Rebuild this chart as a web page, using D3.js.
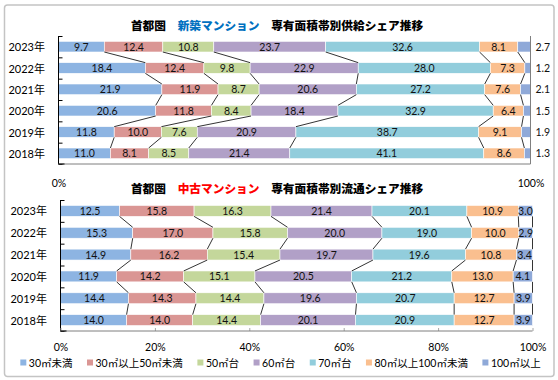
<!DOCTYPE html>
<html><head><meta charset="utf-8">
<script src="https://cdn.jsdelivr.net/npm/d3@7"></script>
<style>
html,body{margin:0;padding:0;background:#fff;}
svg{display:block;}
text{font-family:"Lato","Noto Sans CJK JP",sans-serif;}
</style></head>
<body>
<svg id="chart" width="558" height="380"></svg>
<script>
const years = ["2023年","2022年","2021年","2020年","2019年","2018年"];
const seriesNames = ["30㎡未満","30㎡以上50㎡未満","50㎡台","60㎡台","70㎡台","80㎡以上100㎡未満","100㎡以上"];
const seriesColors = ["#8DB4E2","#DA9694","#C4D79B","#B1A0C7","#92CDDC","#FABF8F","#8FA9D8"];
// 新築マンション (rows = years, cols = series)
const newValues = [
  [9.7,12.4,10.8,23.7,32.6,8.1,2.7],
  [18.4,12.4,9.8,22.9,28.0,7.3,1.2],
  [21.9,11.9,8.7,20.6,27.2,7.6,2.1],
  [20.6,11.8,8.4,18.4,32.9,6.4,1.5],
  [11.8,10.0,7.6,20.9,38.7,9.1,1.9],
  [11.0,8.1,8.5,21.4,41.1,8.6,1.3]
];
// 中古マンション
const usedValues = [
  [12.5,15.8,16.3,21.4,20.1,10.9,3.0],
  [15.3,17.0,15.8,20.0,19.0,10.0,2.9],
  [14.9,16.2,15.4,19.7,19.6,10.8,3.4],
  [11.9,14.2,15.1,20.5,21.2,13.0,4.1],
  [14.4,14.3,14.4,19.6,20.7,12.7,3.9],
  [14.0,14.0,14.4,20.1,20.9,12.7,3.9]
];
const topTicks = [0,100];
const bottomTicks = [0,20,40,60,80,100];

const svg = d3.select("#chart");
svg.append("rect").attr("x",4.5).attr("y",5).attr("width",549.5).attr("height",371.5)
  .attr("rx",3).attr("fill","#fff").attr("stroke","#c4c4c4").attr("stroke-width",1.5);

function drawTitle(y, parts){
  const t = svg.append("text").attr("x",277).attr("y",y).attr("text-anchor","middle")
    .attr("font-family","'Noto Sans CJK JP',sans-serif").attr("font-weight",900).attr("font-size","11.7px");
  parts.forEach(p=>t.append("tspan").attr("fill",p[1]).text(p[0]));
}
drawTitle(30,[["首都圏　","#000"],["新築マンション","#0070C0"],["　専有面積帯別供給シェア推移","#000"]]);
drawTitle(193,[["首都圏　","#000"],["中古マンション","#FF0000"],["　専有面積帯別流通シェア推移","#000"]]);

function drawChart(cfg){
  const {values, x0, x1, y0, y1, ticks, outsideLast, tickIn, rightBorder, labelRight} = cfg;
  const x = d3.scaleLinear().domain([0,100]).range([x0,x1]);
  const y = d3.scaleBand().domain(years).range([y0,y1]).paddingInner(0.5).paddingOuter(0.25);
  const yLin = d3.scaleLinear().domain([0,years.length]).range([y0,y1]);
  const g = svg.append("g");
  const stacked = values.map(row=>{
    let c=0; return row.map(v=>{const s=c; c+=v; return [s,c,v];});
  });
  stacked.forEach((row,ri)=>{
    row.forEach((seg,si)=>{
      g.append("rect").attr("x",x(seg[0])).attr("y",y(years[ri]))
        .attr("width",x(seg[1])-x(seg[0])).attr("height",y.bandwidth())
        .attr("fill",seriesColors[si]).attr("stroke","#fff").attr("stroke-width",0.6);
    });
  });
  for(let ri=0; ri<years.length-1; ri++){
    for(let si=0; si<seriesNames.length; si++){
      g.append("line")
        .attr("x1",x(stacked[ri][si][1])).attr("y1",y(years[ri])+y.bandwidth())
        .attr("x2",x(stacked[ri+1][si][1])).attr("y2",y(years[ri+1]))
        .attr("stroke","#000").attr("stroke-width",0.8);
    }
  }
  stacked.forEach((row,ri)=>{
    row.forEach((seg,si)=>{
      const last = si===seriesNames.length-1;
      const t = g.append("text").attr("y",y(years[ri])+y.bandwidth()/2)
        .attr("dominant-baseline","central").attr("font-size","10.5px").attr("fill","#111")
        .text(seg[2].toFixed(1));
      if(last && outsideLast){ t.attr("x",x(100)+5).attr("text-anchor","start"); }
      else { t.attr("x",(x(seg[0])+x(seg[1]))/2).attr("text-anchor","middle"); }
    });
  });
  const la = g.append("g").attr("transform",`translate(${x0},0)`)
    .call(d3.axisLeft(yLin).ticks(years.length).tickSize(-4).tickFormat(""));
  la.selectAll("path").remove();
  la.selectAll("line").attr("stroke","#000");
  g.append("line").attr("x1",x0).attr("x2",x0).attr("y1",y0).attr("y2",y1).attr("stroke","#000").attr("stroke-width",1);
  years.forEach(yr=>{
    g.append("text").attr("x",labelRight).attr("y",y(yr)+y.bandwidth()/2)
      .attr("dominant-baseline","central").attr("text-anchor","end").attr("font-size","11px").attr("fill","#000").text(yr);
  });
  const ba = g.append("g").attr("transform",`translate(0,${y1})`)
    .call(d3.axisBottom(x).tickValues(ticks).tickSize(tickIn).tickPadding(tickIn<0?13:16).tickFormat(d=>d+"%"));
  ba.select("path").remove();
  ba.selectAll("line").attr("stroke","#a6a6a6");
  ba.selectAll("text").attr("font-size","10.5px").attr("fill","#000").attr("font-family","'Lato',sans-serif");
  g.append("line").attr("x1",x0).attr("x2",x1).attr("y1",y1).attr("y2",y1).attr("stroke","#7f7f7f").attr("stroke-width",1);
  g.append("line").attr("x1",x0).attr("x2",x0+6).attr("y1",y1).attr("y2",y1).attr("stroke","#000").attr("stroke-width",1);
  if(rightBorder){
    g.append("line").attr("x1",x1).attr("x2",x1).attr("y1",y0).attr("y2",y1).attr("stroke","#7f7f7f").attr("stroke-width",1);
  }
}

drawChart({values:newValues, x0:58.5, x1:530.5, y0:36, y1:164, ticks:topTicks, outsideLast:true, tickIn:0, rightBorder:true, labelRight:45});
drawChart({values:usedValues, x0:60.5, x1:532.5, y0:200, y1:331, ticks:bottomTicks, outsideLast:false, tickIn:-3, rightBorder:false, labelRight:47});

const leg = svg.append("g");
let lx = 0;
seriesNames.forEach((n,i)=>{
  const it = leg.append("g").attr("transform",`translate(${lx},0)`);
  it.append("rect").attr("x",0).attr("y",-3).attr("width",6).attr("height",6).attr("fill",seriesColors[i]);
  const t = it.append("text").attr("x",8.5).attr("y",0).attr("dominant-baseline","central")
    .attr("font-size","10.5px").attr("fill","#000").text(n);
  const w = t.node().getComputedTextLength();
  lx += 8.5 + w + 14.5;
});
const totalW = lx - 14.5;
leg.attr("transform",`translate(${(32+529)/2 - totalW/2},362.5)`);
</script>
</body></html>
